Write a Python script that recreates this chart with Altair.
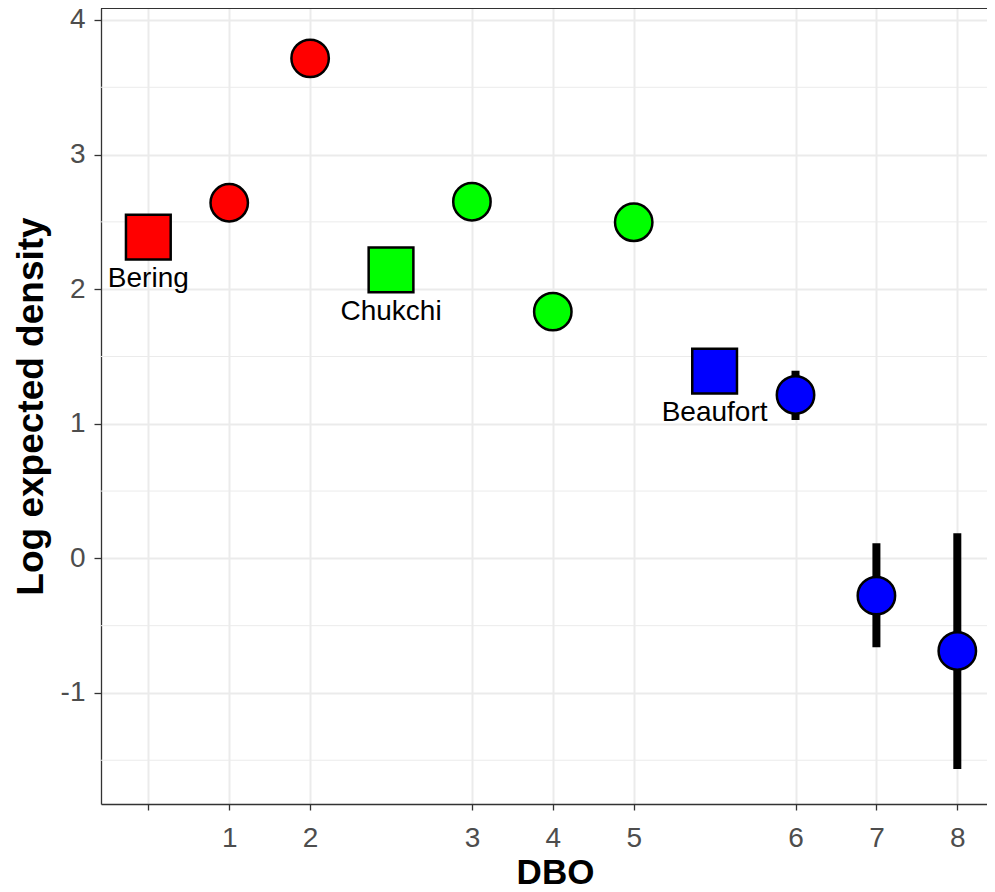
import altair as alt
import pandas as pd

# ---- data ----
dbo_labels = ["1", "2", "3", "4", "5", "6", "7", "8"]
dbo_pos = [1, 2, 4, 5, 6, 8, 9, 10]
dbo_sea = ["Bering", "Bering", "Chukchi", "Chukchi", "Chukchi", "Beaufort", "Beaufort", "Beaufort"]
dbo_est = [2.642, 3.715, 2.650, 1.833, 2.497, 1.214, -0.277, -0.688]
dbo_lo = [None, None, None, None, None, 1.028, -0.660, -1.565]
dbo_hi = [None, None, None, None, None, 1.394, 0.112, 0.186]

region_names = ["Bering", "Chukchi", "Beaufort"]
region_pos = [0, 3, 7]
region_est = [2.386, 2.144, 1.391]
region_colors = ["#FF0000", "#00FF00", "#0000FF"]

x_tick_pos = [0, 1, 2, 4, 5, 6, 8, 9, 10]
x_tick_labels = ["", "1", "2", "3", "4", "5", "6", "7", "8"]
y_ticks = [-1, 0, 1, 2, 3, 4]
y_minor = [-1.5, -0.5, 0.5, 1.5, 2.5, 3.5]
x_domain = [-0.585, 10.367]
y_domain = [-1.825, 4.089]

dbo_df = pd.DataFrame({"pos": dbo_pos, "label": dbo_labels, "sea": dbo_sea,
                       "est": dbo_est, "lo": dbo_lo, "hi": dbo_hi})
reg_df = pd.DataFrame({"pos": region_pos, "sea": region_names, "est": region_est})
minor_df = pd.DataFrame({"est": y_minor})

W, H = 886, 796
FONT = "Liberation Sans"

label_expr = "".join(
    f"datum.value == {p} ? '{l}' : " for p, l in zip(x_tick_pos, x_tick_labels)
) + "''"

x_scale = alt.Scale(domain=x_domain, nice=False, zero=False)
y_scale = alt.Scale(domain=y_domain, nice=False, zero=False)
fill_scale = alt.Scale(domain=region_names, range=region_colors)

x_axis = alt.Axis(
    values=x_tick_pos, labelExpr=label_expr, title="DBO",
    titleFont=FONT, titleFontSize=35, titleFontWeight="bold", titleColor="black",
    titleX=454, titleY=79.5, titleBaseline="alphabetic", titleAlign="center",
    labelFont=FONT, labelFontSize=28, labelColor="#4D4D4D", labelBaseline="alphabetic",
    labelPadding=36, labelFlush=False, labelOverlap=False,
    tickSize=6, tickColor="#333333", tickWidth=1.3,
    domainColor="#333333", domainWidth=1.3,
    grid=True, gridColor="#EBEBEB", gridWidth=2,
)
y_axis = alt.Axis(
    values=y_ticks, labelExpr="'' + datum.value", title="Log expected density",
    titleFont=FONT, titleFontSize=37, titleFontWeight="bold", titleColor="black",
    titleAngle=270, titleX=-58.3, titleY=398, titleBaseline="alphabetic", titleAlign="center",
    labelFont=FONT, labelFontSize=28, labelColor="#4D4D4D", labelPadding=9,
    labelFlush=False, labelOverlap=False,
    tickSize=7, tickColor="#333333", tickWidth=1.3,
    domainColor="#333333", domainWidth=1.3,
    grid=True, gridColor="#EBEBEB", gridWidth=2,
)

X = alt.X("pos:Q", scale=x_scale, axis=x_axis)

minor = alt.Chart(minor_df).mark_rule(color="#EBEBEB", strokeWidth=1).encode(
    y=alt.Y("est:Q", scale=y_scale, axis=y_axis)
)

axes_layer = alt.Chart(dbo_df).mark_point(opacity=0).encode(
    x=X,
    y=alt.Y("est:Q", scale=y_scale, axis=y_axis),
)

top_border = alt.Chart(minor_df).mark_rule(color="#333333", strokeWidth=1.3).encode(
    x=alt.value(0), x2=alt.value(W), y=alt.value(0)
)

errbars = alt.Chart(dbo_df).transform_filter("isValid(datum.lo)").mark_rule(
    color="black", strokeWidth=8
).encode(
    x=X,
    y=alt.Y("lo:Q", scale=y_scale, axis=y_axis),
    y2="hi:Q",
)

circles = alt.Chart(dbo_df).mark_point(
    shape="circle", filled=True, size=1400, stroke="black", strokeWidth=2.5,
    opacity=1, fillOpacity=1, strokeOpacity=1
).encode(
    x=X,
    y=alt.Y("est:Q", scale=y_scale, axis=y_axis),
    fill=alt.Fill("sea:N", scale=fill_scale, legend=None),
)

squares = alt.Chart(reg_df).mark_point(
    shape="square", filled=True, size=2000, stroke="black", strokeWidth=2.5,
    opacity=1, fillOpacity=1, strokeOpacity=1
).encode(
    x=X,
    y=alt.Y("est:Q", scale=y_scale, axis=y_axis),
    fill=alt.Fill("sea:N", scale=fill_scale, legend=None),
)

labels = alt.Chart(reg_df).mark_text(
    dy=50, fontSize=28, font=FONT, baseline="alphabetic", align="center", color="black"
).encode(
    x=X,
    y=alt.Y("est:Q", scale=y_scale, axis=y_axis),
    text="sea:N",
)

chart = alt.layer(
    minor, axes_layer, top_border, errbars, circles, squares, labels
).properties(
    width=W, height=H,
    autosize=alt.AutoSizeParams(type="none"),
    padding={"left": 93, "top": 0, "right": 0, "bottom": 80},
    background="white",
).configure_view(stroke=None)

chart.save("out.html", embed_options={"renderer": "svg", "actions": False})
